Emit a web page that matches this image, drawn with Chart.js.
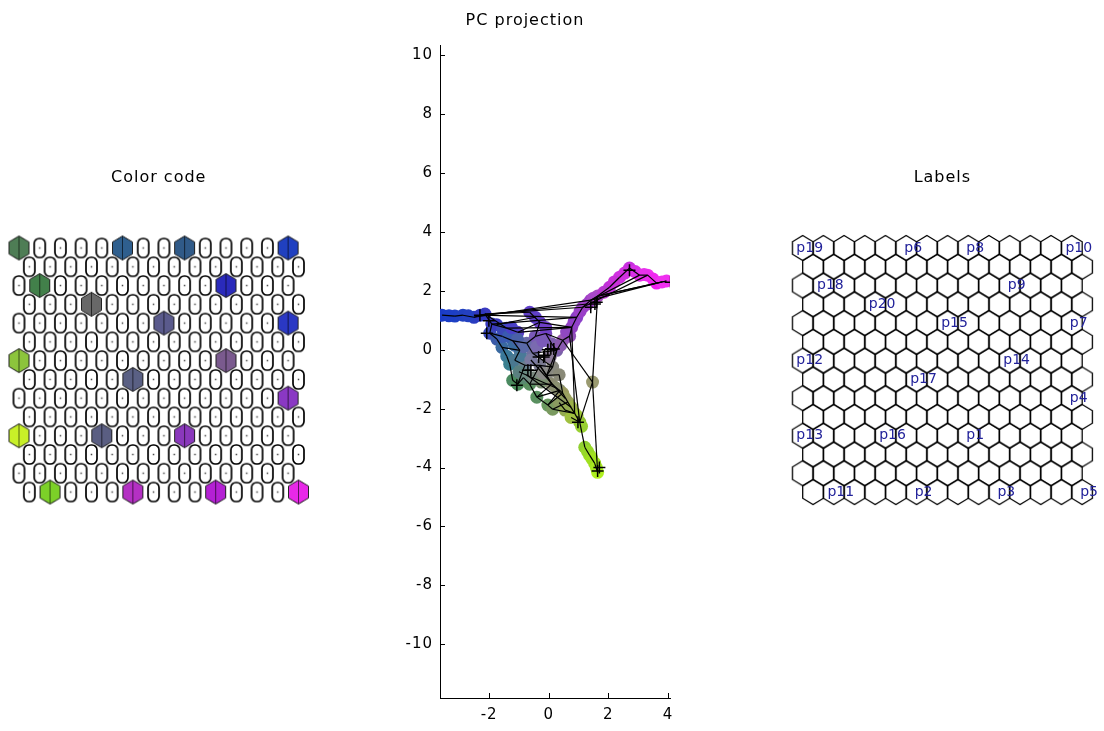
<!DOCTYPE html>
<html>
<head>
<meta charset="utf-8">
<title>SOM: color code, PC projection, labels</title>
<script src="https://cdn.jsdelivr.net/npm/chart.js@4.4.1/dist/chart.umd.min.js"></script>
<style>
  html, body { margin: 0; padding: 0; background: #fff; }
  body { width: 1104px; height: 731px; position: relative; overflow: hidden; }
  .panel { position: absolute; top: 0; height: 731px; }
  #colorPanel { left: 0; width: 330px; }
  #pcPanel { left: 380px; width: 320px; }
  #labelPanel { left: 770px; width: 334px; }
</style>
</head>
<body>
<div class="panel" id="colorPanel"><canvas id="colorChart"></canvas></div>
<div class="panel" id="pcPanel"><canvas id="pcChart"></canvas></div>
<div class="panel" id="labelPanel"><canvas id="labelChart"></canvas></div>
<script>
// map lattice size
const gridRows = 14;
const gridCols = 14;

// labelled map units: name, lattice row / column, colour code
const unitLabels = ['p19', 'p6', 'p8', 'p10', 'p18', 'p9', 'p20', 'p15', 'p7', 'p12',
                    'p14', 'p17', 'p4', 'p13', 'p16', 'p1', 'p11', 'p2', 'p3', 'p5'];
const unitRows = [0, 0, 0, 0, 2, 2, 3, 4, 4, 6, 6, 7, 8, 10, 10, 10, 13, 13, 13, 13];
const unitCols = [0, 5, 8, 13, 1, 10, 3, 7, 13, 0, 10, 5, 13, 0, 4, 8, 1, 5, 9, 13];
const unitColors = ['#4e7d55', '#2f5f8e', '#305a88', '#2040c0', '#42804a', '#2a2abb',
                    '#686868', '#5a5a8c', '#2a38c4', '#8cc43c', '#7a5a8e', '#5a6084',
                    '#8a38c4', '#c8f028', '#5a5e82', '#8a38bc', '#7cd028', '#b430c4',
                    '#b420d4', '#e828e8'];

// PC projection: map unit positions and colours
const nodeX = [-3.58, -3.15, -2.88, -2.51, -2.14, -1.91, -1.98, -1.74, -1.57, -1.41,
               -1.31, -1.21, -1.04, -0.64, -0.40, -0.03, 0.13, -1.41, -1.04, -0.64,
               -0.30, -0.74, -0.54, -0.97, -1.14, -0.80, -0.30, 0.13, 0.27, 0.47,
               0.70, 0.77, 0.94, 1.14, 1.41, 1.64, 2.04, 2.38, 2.71, 3.05,
               3.32, 3.62, 3.95, -0.07, 0.10, 0.37, 0.47, 0.64, 0.87, 1.04,
               1.21, 1.37, 1.54, 1.64, 1.47, -1.20, -1.55, -0.45, -0.10, 0.10,
               -0.85, 0.35,
               -3.35, -2.70, -2.30, -1.75, -1.55, -1.35, -1.15, -0.95, -1.25, -1.05,
               -0.85, -0.60, -1.00, -0.75, -0.50, -0.25, -0.20, -0.40, -0.20, 0.05,
               0.25, 0.55, 0.75, 0.95, 1.10, 1.30, 1.45, 1.60, 0.35, 0.55,
               0.75, 0.40, 0.60, 0.85, 1.05, 1.30, 1.50, 1.85, 2.20, 2.55,
               2.90, 3.20, 3.50, 3.80, -0.45, -0.10];
const nodeY = [1.17, 1.14, 1.17, 1.10, 1.21, 0.87, 0.56, 0.36, 0.08, -0.22,
               -0.49, -1.04, -1.17, -1.17, -1.61, -1.88, -2.02, 0.73, 0.59, 1.27,
               0.93, 0.22, -0.12, -0.02, -0.36, -0.53, -0.53, -0.59, -0.02, 0.32,
               0.46, 0.76, 1.10, 1.44, 1.68, 1.82, 2.12, 2.46, 2.77, 2.53,
               2.53, 2.26, 2.33, -0.87, -1.17, -1.38, -1.48, -1.78, -2.16, -2.46,
               -3.31, -3.58, -3.85, -4.16, -1.10, 0.30, 0.45, 0.45, 0.55, 0.20,
               -0.95, -0.85,
               1.15, 1.15, 1.17, 0.85, 0.70, 0.45, 0.15, -0.20, 0.75, 0.35,
               0.10, -0.35, -0.75, -0.85, -0.95, -1.10, -0.80, 0.10, 0.30, -0.25,
               -1.30, -1.65, -1.95, -2.25, -2.60, -3.45, -3.70, -4.00, -1.80, -2.05,
               -2.30, 0.15, 0.60, 0.95, 1.30, 1.55, 1.75, 1.95, 2.30, 2.60,
               2.65, 2.55, 2.40, 2.30, 1.10, 0.75];
const nodeColors = ['#1a3cc8', '#1e40c4', '#2040c0', '#2a3cc0', '#3a3ac0', '#3a3cc0', '#3a48b8', '#3a5aa8', '#3a6aa0', '#3a7898',
                    '#3a8090', '#4a8a60', '#4a8a5a', '#5a9060', '#5a9060', '#6a9a60', '#7a9a60', '#3a3ac8', '#5a40c8', '#6040c8',
                    '#6a40c8', '#6a6aa8', '#7070a0', '#4a70a0', '#4a7890', '#6a8090', '#7a7a90', '#8a8a80', '#7a60a8', '#9a5ab0',
                    '#9050b8', '#9040c0', '#8a40c8', '#9a40c8', '#a040c8', '#a850c0', '#c030d8', '#d030e0', '#c830e0', '#e030e8',
                    '#f030f0', '#f020f0', '#f030f0', '#8a8a80', '#8a8a70', '#8a9070', '#9a9a60', '#9aaa50', '#a0c040', '#90c030',
                    '#90d030', '#a0e020', '#a0e020', '#b0f020', '#9a9a70', '#3a6aa8', '#3a5ab0', '#7a5ab8', '#7a48c0', '#8060b0',
                    '#5a8a70', '#8a8a78',
                    '#1c3ec6', '#2440c0', '#3038c0', '#3a3ac0', '#3a48b8', '#3a5ab0', '#3a6aa0', '#4a7a98', '#4a40c8', '#4a60a8',
                    '#5a6aa8', '#7a7aa0', '#5a8080', '#6a8a80', '#7a8a80', '#7a9070', '#8a8a88', '#7a6ab0', '#7a5ab8', '#8a7a98',
                    '#8a9070', '#9aa060', '#9ab048', '#a0c838', '#98d030', '#98d828', '#a0e020', '#a8ec20', '#8a9a60', '#94aa50',
                    '#a0c040', '#8a5ab0', '#9048c0', '#9040c8', '#9a40c8', '#a040c8', '#a848c8', '#b838d0', '#c830d8', '#d030e0',
                    '#d830e8', '#e830ec', '#f028f0', '#f030f0', '#6040c8', '#7040c8'];

// neighbour connections between map units (index pairs)
const edgeFrom = [0, 1, 2, 3, 4, 5, 6, 7, 8, 9, 10, 11, 12, 60, 13, 14, 15,
                  4, 5, 17, 18, 4, 19, 4, 5, 17, 18, 3,
                  6, 56, 55, 21, 22, 23, 24, 25, 26, 8, 55, 25, 26, 27, 28, 28, 29, 30, 31, 32, 33, 34, 28, 28, 20, 57, 58, 59, 57, 58, 20,
                  35, 36, 37, 38, 39, 40, 41, 34, 35, 35, 33,
                  43, 44, 45, 46, 47, 48, 49, 50, 51, 52, 15, 16, 14, 13, 15, 16, 43, 61, 26, 14, 26,
                  30, 35, 54, 54, 29, 31,
                  64, 64, 65, 74, 73, 75, 90, 91, 92, 105];
const edgeTo = [1, 2, 3, 4, 5, 6, 7, 8, 9, 10, 11, 12, 60, 13, 14, 15, 16,
                17, 17, 18, 20, 19, 20, 33, 32, 31, 31, 34,
                56, 55, 21, 22, 27, 24, 25, 26, 27, 23, 23, 12, 13, 43, 22, 29, 30, 31, 32, 33, 34, 35, 27, 43, 57, 58, 59, 28, 21, 29, 31,
                36, 37, 38, 39, 40, 41, 42, 39, 41, 42, 40,
                44, 45, 46, 47, 48, 49, 50, 51, 52, 53, 46, 47, 44, 44, 45, 48, 61, 46, 43, 45, 44,
                49, 54, 53, 49, 54, 48,
                97, 32, 106, 82, 83, 84, 91, 48, 49, 34];

// projected data samples
const dataX = [-2.31, -2.01, -2.08, -0.03, 0.17, -0.14, -0.34, -0.70, -1.07, 0.98,
               1.64, 1.70, 1.41, 1.61, 2.71, 4.09, 0.07, -0.17, 1.55, -0.60];
const dataY = [1.17, 0.98, 0.56, 0.00, 0.02, -0.19, -0.25, -0.70, -1.21, -2.46,
               -4.12, -4.00, 1.44, 1.61, 2.70, 2.29, 0.03, -0.25, 1.55, -0.70];

// PC axis ticks
const pcTicksX = [-2, 0, 2, 4];
const pcTicksY = [-10, -8, -6, -4, -2, 0, 2, 4, 6, 8, 10];

const fontFamily = '"DejaVu Sans", "Liberation Sans", sans-serif';

// hexagon coordinates: odd rows are shifted half a unit to the right
function latticeX(row, col) {
  return col + (row % 2 ? 0.5 : 0);
}

function hexPath(g, cx, cy, w, h) {
  g.beginPath();
  g.moveTo(cx, cy - h / 2);
  g.lineTo(cx + w / 2, cy - h / 4);
  g.lineTo(cx + w / 2, cy + h / 4);
  g.lineTo(cx, cy + h / 2);
  g.lineTo(cx - w / 2, cy + h / 4);
  g.lineTo(cx - w / 2, cy - h / 4);
  g.closePath();
}

function hexCanvas(w, h, opts) {
  const c = document.createElement('canvas');
  c.width = Math.ceil(w) + 3;
  c.height = Math.ceil(h) + 3;
  const g = c.getContext('2d');
  const cx = c.width / 2, cy = c.height / 2;
  hexPath(g, cx, cy, w, h);
  if (opts.fill) {
    g.fillStyle = opts.fill;
    g.fill();
  }
  g.strokeStyle = opts.stroke || '#000';
  g.lineWidth = opts.lineWidth || 1;
  g.stroke();
  if (opts.midLine) {
    g.beginPath();
    g.moveTo(cx, cy - h / 2);
    g.lineTo(cx, cy + h / 2);
    g.strokeStyle = 'rgba(0,0,0,0.6)';
    g.lineWidth = 1;
    g.stroke();
  }
  return c;
}

// the tiny unit shapes look like a "0" with a dot in the middle
function smallUnitCanvas(w, h) {
  const c = document.createElement('canvas');
  c.width = w + 4;
  c.height = h + 4;
  const g = c.getContext('2d');
  const cx = c.width / 2, cy = c.height / 2;
  g.beginPath();
  g.roundRect(cx - w / 2, cy - h / 2, w, h, 5);
  g.strokeStyle = '#000';
  g.lineWidth = 1.7;
  g.stroke();
  g.fillStyle = '#444';
  g.fillRect(cx - 0.75, cy - 0.75, 1.5, 1.5);
  return c;
}

const latticeCells = [];
for (let r = 0; r < gridRows; r++) {
  for (let c = 0; c < gridCols; c++) {
    latticeCells.push({ x: latticeX(r, c), y: r });
  }
}
const unitPoints = unitLabels.map((name, i) => ({ x: latticeX(unitRows[i], unitCols[i]), y: unitRows[i] }));

// glyphs for the lattice
const smallHex = smallUnitCanvas(11, 19);
const outlineHex = hexCanvas(20.7, 25, { stroke: '#000', lineWidth: 1.3 });
const colorHexes = unitColors.map(col => hexCanvas(20, 24, { fill: col, stroke: '#222', lineWidth: 1, midLine: true }));

const spacedText = {
  id: 'spacedText',
  beforeDraw(chart) {
    chart.ctx.letterSpacing = '1px';
  }
};

const inwardTicks = {
  id: 'inwardTicks',
  afterDraw(chart) {
    const { ctx, chartArea, scales } = chart;
    ctx.save();
    ctx.strokeStyle = '#000';
    ctx.lineWidth = 1;
    ctx.beginPath();
    scales.x.ticks.forEach(t => {
      const px = Math.round(scales.x.getPixelForValue(t.value)) + 0.5;
      ctx.moveTo(px, chartArea.bottom);
      ctx.lineTo(px, chartArea.bottom - 5);
    });
    scales.y.ticks.forEach(t => {
      const py = Math.round(scales.y.getPixelForValue(t.value)) + 0.5;
      ctx.moveTo(chartArea.left, py);
      ctx.lineTo(chartArea.left + 5, py);
    });
    ctx.stroke();
    ctx.restore();
  }
};

const unitLabelText = {
  id: 'unitLabelText',
  afterDatasetsDraw(chart) {
    const { ctx, scales: { x, y } } = chart;
    ctx.save();
    ctx.font = '14px ' + fontFamily;
    ctx.letterSpacing = '0px';
    ctx.fillStyle = '#22229a';
    ctx.textAlign = 'center';
    ctx.textBaseline = 'middle';
    unitLabels.forEach((name, i) => {
      const px = x.getPixelForValue(latticeX(unitRows[i], unitCols[i])) + 7;
      const py = y.getPixelForValue(unitRows[i]);
      ctx.fillText(name, px, py);
    });
    ctx.restore();
  }
};

function titleOpts(text, top, bottom) {
  return {
    display: true,
    text: text,
    color: '#000',
    font: { family: fontFamily, size: 16, weight: 'normal', lineHeight: 1.2 },
    padding: { top: top, bottom: bottom }
  };
}

const hiddenScales = {
  x: { type: 'linear', display: false, min: -0.5, max: 14 },
  y: { type: 'linear', display: false, min: -0.75, max: 13.75, reverse: true }
};

Chart.defaults.font.family = fontFamily;
Chart.defaults.animation = false;

// left: colour code
new Chart(document.getElementById('colorChart'), {
  type: 'scatter',
  data: {
    datasets: [
      {
        label: 'units',
        data: latticeCells,
        pointStyle: smallHex,
        clip: false,
        order: 2
      },
      {
        label: 'coloured units',
        data: unitPoints,
        pointStyle: colorHexes,
        clip: false,
        order: 1
      }
    ]
  },
  options: {
    responsive: true,
    maintainAspectRatio: false,
    layout: { padding: { left: 8.65, right: 21.2, top: 0, bottom: 224.9 } },
    scales: hiddenScales,
    plugins: {
      legend: { display: false },
      tooltip: { enabled: false },
      title: titleOpts('Color code', 168.3, 46.4)
    }
  },
  plugins: [spacedText]
});

// middle: PC projection
const edgeSets = edgeFrom.map((a, i) => ({
  label: 'edge ' + i,
  data: [{ x: nodeX[a], y: nodeY[a] }, { x: nodeX[edgeTo[i]], y: nodeY[edgeTo[i]] }],
  showLine: true,
  borderColor: '#000',
  borderWidth: 1.2,
  pointRadius: 0,
  order: 2
}));

new Chart(document.getElementById('pcChart'), {
  type: 'scatter',
  data: {
    datasets: [
      {
        label: 'map units',
        data: nodeX.map((x, i) => ({ x: x, y: nodeY[i] })),
        pointRadius: 6.5,
        pointBackgroundColor: nodeColors,
        pointBorderWidth: 0,
        order: 3
      },
      ...edgeSets,
      {
        label: 'data',
        data: dataX.map((x, i) => ({ x: x, y: dataY[i] })),
        pointStyle: 'cross',
        pointRadius: 6,
        pointBorderColor: '#000',
        pointBorderWidth: 1.5,
        order: 1
      }
    ]
  },
  options: {
    responsive: true,
    maintainAspectRatio: false,
    layout: { padding: { left: 0, right: 30, top: 0, bottom: 0 } },
    scales: {
      x: {
        type: 'linear',
        min: -3.65,
        max: 4.07,
        afterFit(scale) { scale.height = 33; },
        afterBuildTicks(scale) { scale.ticks = pcTicksX.map(v => ({ value: v })); },
        grid: { display: false, drawTicks: false },
        border: { display: true, color: '#000', width: 1 },
        ticks: { color: '#000', padding: 8, font: { size: 15 } }
      },
      y: {
        type: 'linear',
        min: -11.82,
        max: 10.34,
        afterFit(scale) { scale.width = 60; },
        afterBuildTicks(scale) { scale.ticks = pcTicksY.map(v => ({ value: v })); },
        grid: { display: false, drawTicks: false },
        border: { display: true, color: '#000', width: 1 },
        ticks: { color: '#000', padding: 7, font: { size: 15 } }
      }
    },
    plugins: {
      legend: { display: false },
      tooltip: { enabled: false },
      title: titleOpts('PC projection', 11.4, 14.4)
    }
  },
  plugins: [spacedText, inwardTicks]
});

// right: labels
new Chart(document.getElementById('labelChart'), {
  type: 'scatter',
  data: {
    datasets: [
      {
        label: 'units',
        data: latticeCells,
        pointStyle: outlineHex,
        clip: false
      }
    ]
  },
  options: {
    responsive: true,
    maintainAspectRatio: false,
    layout: { padding: { left: 22.35, right: 11.55, top: 0, bottom: 224.9 } },
    scales: hiddenScales,
    plugins: {
      legend: { display: false },
      tooltip: { enabled: false },
      title: titleOpts('Labels', 168.3, 46.4)
    }
  },
  plugins: [spacedText, unitLabelText]
});
</script>
</body>
</html>
